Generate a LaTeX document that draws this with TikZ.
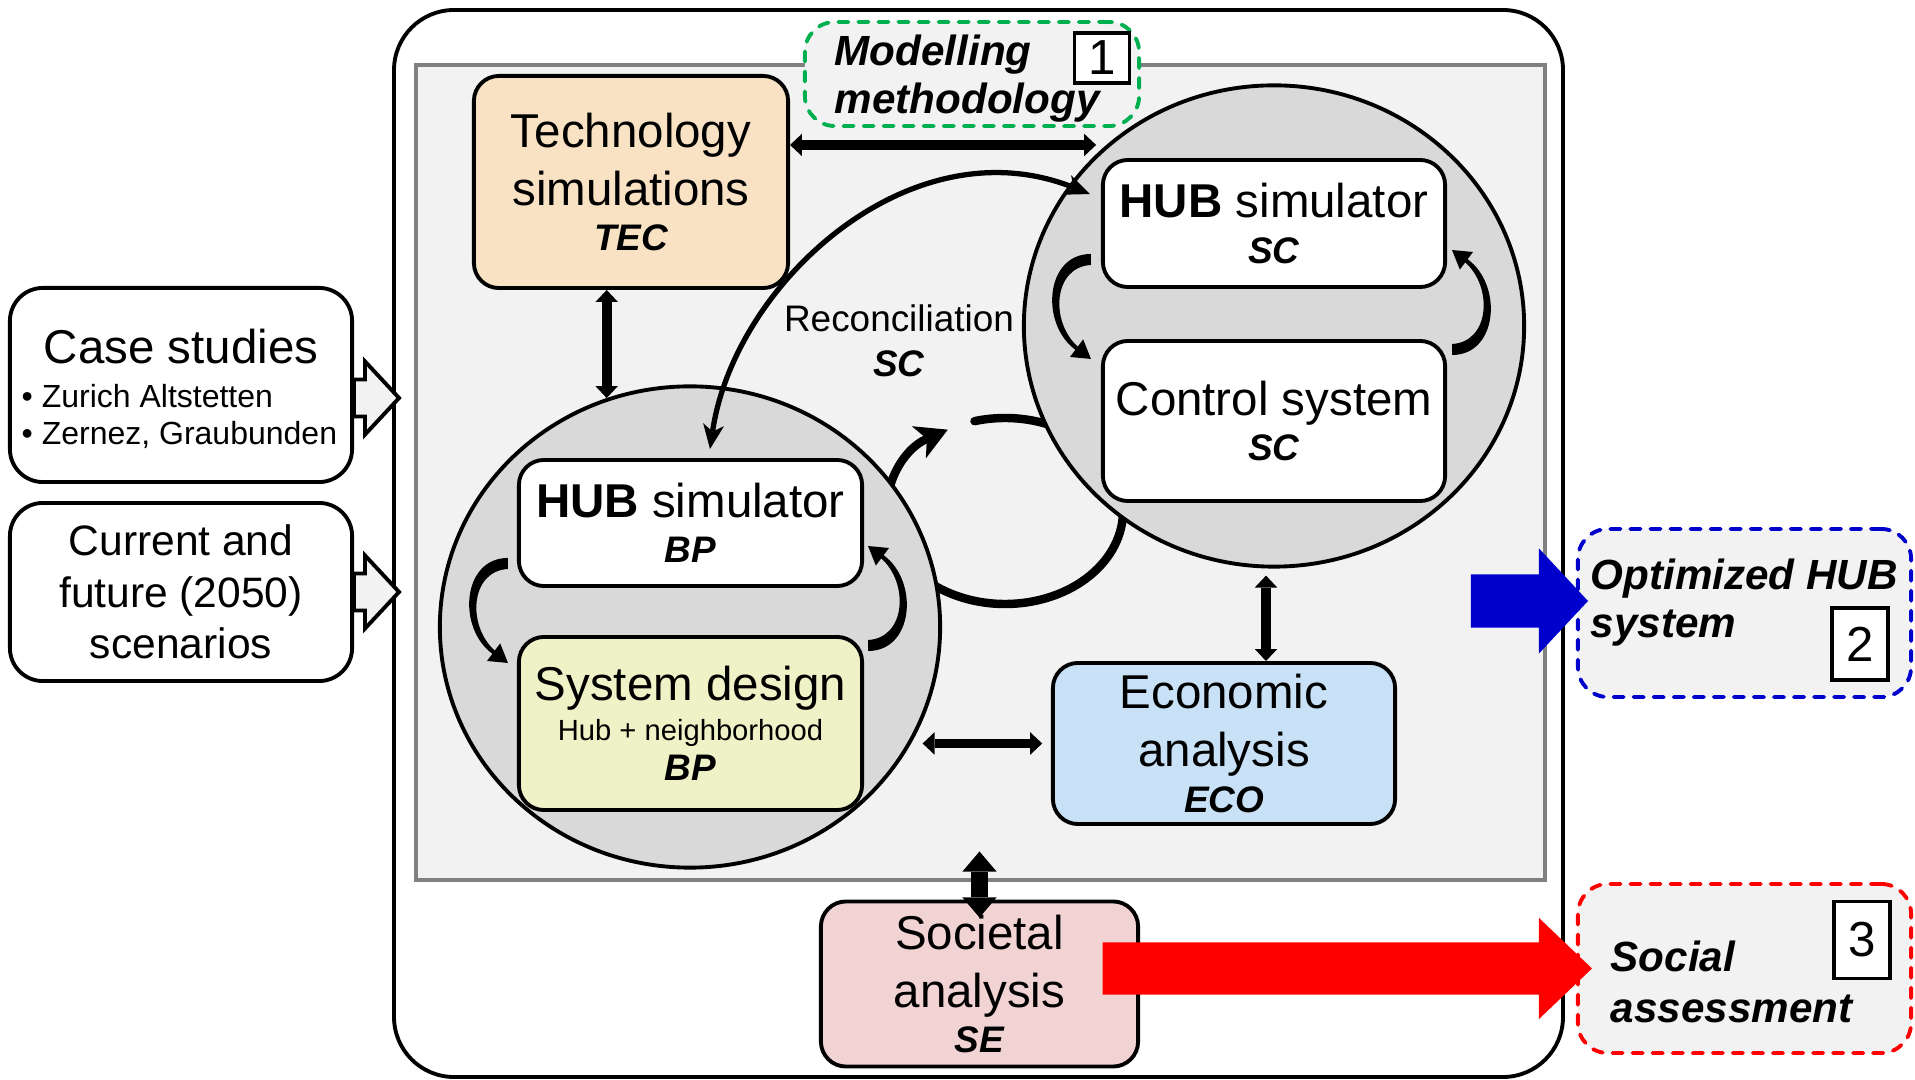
\documentclass[tikz,border=0pt]{standalone}
\usepackage{fontspec}
\setmainfont{Liberation Sans}
\usetikzlibrary{shapes.geometric,arrows.meta,positioning,calc}

\definecolor{techfill}{HTML}{F9E2C4}
\definecolor{designfill}{HTML}{EEF2C6}
\definecolor{ecofill}{HTML}{C8E1F6}
\definecolor{socfill}{HTML}{F2D3D3}
\definecolor{coregray}{HTML}{F2F2F2}
\definecolor{coreline}{HTML}{808080}
\definecolor{zonegray}{HTML}{D9D9D9}
\definecolor{mmgreen}{HTML}{00B050}
\definecolor{optblue}{HTML}{0000CC}
\definecolor{sared}{HTML}{FF0000}

\newcommand{\bigf}{\fontsize{13.5pt}{16.5pt}\selectfont}
\newcommand{\tagf}{\fontsize{10.5pt}{12pt}\selectfont\bfseries\itshape}
\newcommand{\resf}{\fontsize{12pt}{13.7pt}\selectfont\bfseries\itshape}

% horizontal block arrow: style, tip, length, shaft half width, head half width, head length
\newcommand{\blockarrow}[6]{%
  \path[#1] let \p1=(#2) in
    (\x1-#3,\y1+#4) -- (\x1-#6,\y1+#4) -- (\x1-#6,\y1+#5) -- (\x1,\y1)
    -- (\x1-#6,\y1-#5) -- (\x1-#6,\y1-#4) -- (\x1-#3,\y1-#4) -- cycle;}

\tikzset{
  box/.style={rectangle, rounded corners=0.25cm, draw, line width=1.1pt,
    align=center, font=\bigf, inner sep=0pt},
  simbox/.style={box, fill=white, minimum width=3.42cm},
  zone/.style={ellipse, draw, line width=1.1pt, fill=zonegray,
    minimum width=5.0cm, minimum height=4.81cm},
  result/.style={rectangle, rounded corners=0.3cm, line width=1.1pt,
    dash pattern=on 2.9pt off 2.8pt, line cap=round, fill=coregray},
  numbox/.style={rectangle, draw, line width=1.1pt, fill=white,
    font=\fontsize{14pt}{16pt}\selectfont, inner sep=0pt},
  duplex/.style={line width=2.8pt,
    {Triangle[length=3.4pt,width=6.4pt,line width=0pt]}-{Triangle[length=3.4pt,width=6.4pt,line width=0pt]}},
  fat duplex/.style={line width=5pt,
    {Triangle[length=5.7pt,width=9.7pt,line width=0pt]}-{Triangle[length=5.7pt,width=9.7pt,line width=0pt]}},
  bend arrow/.style={line width=1.5pt,
    {Stealth[length=7pt,width=6pt,inset=2pt,line width=0pt]}-{Stealth[length=7pt,width=6pt,inset=2pt,line width=0pt]}},
  loop arrow/.style={line width=2.4pt},
  pics/crescent/.style={code={
    \fill (0,0) .. controls (-46,0) and (-51,-70) .. (-15.6,-95.8)
      -- (-21,-103) -- (0,-105) -- (-7.8,-85.4) -- (-13.2,-92.6)
      .. controls (-41,-68) and (-38,-13) .. (0,-11) -- cycle;
  }}
}

\begin{document}
\begin{tikzpicture}[x=0.01cm, y=0.01cm]
  \useasboundingbox (0,0) rectangle (1915,-1080);

  % Frames
  \draw[line width=1.1pt, rounded corners=0.6cm, fill=white] (394,-10) rectangle (1563,-1077);
  \draw[line width=1.3pt, draw=coreline, fill=coregray] (416,-65) rectangle (1545,-880);
  \node[result, draw=mmgreen, minimum width=3.34cm, minimum height=1.04cm] (mm) at (972,-74) {};
  \node[anchor=west, align=left, inner sep=0pt, font=\resf] (mmtext) at (834,-79) {Modelling\\methodology};
  \node[numbox, minimum width=0.55cm, minimum height=0.5cm] (n1) at (1102,-58) {1};

  % Loop between the zones, its ends go under them
  \coordinate (loopc) at (1005,-511);
  \draw[loop arrow, -{Stealth[length=9pt,width=10pt,inset=2.5pt,line width=0pt]}]
    ([shift={(15:118 and 93)}]loopc) arc[start angle=15, end angle=-241, x radius=118, y radius=93];
  \draw[loop arrow, line cap=round]
    ([shift={(105:118 and 93)}]loopc) arc[start angle=105, end angle=40, x radius=118, y radius=93];

  % Zones
  \node[zone] (rc) at (1274,-326) {};
  \node[zone] (lc) at (690,-627) {};

  % Boxes
  \node[box, fill=techfill, minimum width=3.14cm, minimum height=2.12cm] (tech) at (631,-182)
    {Technology\\simulations\\[-3.7pt]{\tagf TEC}};
  \node[simbox, minimum height=1.27cm] (hubsc) at (1274,-223.5) {{\bfseries HUB} simulator\\[-3.6pt]{\tagf SC}};
  \node[simbox, minimum height=1.60cm] (ctrl) at (1274,-421) {Control system\\[-3.6pt]{\tagf SC}};
  \node[simbox, minimum width=3.43cm, minimum height=1.26cm] (hubbp) at (690.5,-523) {{\bfseries HUB} simulator\\[-3.6pt]{\tagf BP}};
  \node[box, fill=designfill, minimum width=3.43cm, minimum height=1.73cm] (sysd) at (690.5,-723.5)
    {System design\\[-5.1pt]{\fontsize{8.3pt}{10pt}\selectfont Hub + neighborhood}\\[-5.1pt]{\tagf BP}};
  \node[box, fill=ecofill, minimum width=3.42cm, minimum height=1.61cm] (eco) at (1224,-743.5)
    {Economic\\analysis\\[-3.6pt]{\tagf ECO}};

  % Feedback inside the zones
  \pic at ($(hubsc.south west)+(-10,35)$) {crescent};
  \pic[rotate=180] at ($(ctrl.north east)+(5,-16)$) {crescent};
  \pic at ($(hubbp.south west)+(-9,30)$) {crescent};
  \pic[rotate=180] at ($(sysd.north east)+(4,-16)$) {crescent};

  % Reconciliation
  \draw[bend arrow] ([xshift=0.195cm,yshift=0.09cm]hubbp.north)
    .. controls +(24,165) and +(-180,72) .. ([xshift=-0.11cm,yshift=-0.36cm]hubsc.north west);
  \node[align=center, inner sep=0pt, font=\fontsize{10.5pt}{12.8pt}\selectfont] (recon) at (899,-341)
    {Reconciliation\\{\tagf SC}};

  % Links
  \draw[duplex] ([yshift=0.37cm]tech.east) -- ([yshift=0.37cm]tech.east -| rc.136);
  \draw[duplex] (tech.south -| lc.110) -- (lc.110);
  \draw[duplex, shorten <=3.4pt, shorten >=2.5pt] (lc.-28 |- eco.west) -- (eco.west);
  \draw[duplex, shorten <=2pt] ([xshift=-0.08cm]rc.south) -- ([xshift=-0.08cm]rc.south |- eco.north);

  % Societal analysis
  \node[box, fill=socfill, minimum width=3.17cm, minimum height=1.65cm] (soc) at (979.5,-984)
    {Societal\\analysis\\[-3.6pt]{\tagf SE}};
  \draw[fat duplex] ([yshift=-0.18cm]soc.north) -- ([yshift=0.48cm]soc.north);

  % Results
  \node[result, draw=optblue, minimum width=3.33cm, minimum height=1.68cm] (opt) at (1744.5,-613) {};
  \node[anchor=west, align=left, inner sep=0pt, font=\resf] (opttext) at (1590,-603) {Optimized HUB\\system};
  \node[numbox, minimum width=0.56cm, minimum height=0.72cm] (n2) at (1860,-644) {2};
  \node[result, draw=sared, minimum width=3.33cm, minimum height=1.69cm] (sa) at (1744.5,-968.5) {};
  \node[anchor=west, align=left, inner sep=0pt, font=\fontsize{12pt}{14.5pt}\selectfont\bfseries\itshape] (satext) at (1610,-982) {Social\\assessment};
  \node[numbox, minimum width=0.56cm, minimum height=0.77cm] (n3) at (1862,-940) {3};
  \blockarrow{fill=optblue}{[xshift=0.12cm,yshift=0.12cm]opt.west}{1.17cm}{0.265cm}{0.525cm}{0.49cm}
  \blockarrow{fill=sared}{[xshift=0.16cm]sa.west}{4.89cm}{0.26cm}{0.505cm}{0.53cm}

  % Inputs
  \node[box, fill=white, minimum width=3.42cm, minimum height=1.94cm, rounded corners=0.33cm] (cases) at (181,-385) {};
  \node[anchor=base, font=\bigf] (casetitle) at (181,-364) {Case studies};
  \node[anchor=base west, align=left, inner sep=0pt, font=\fontsize{9.1pt}{10.8pt}\selectfont] (casesites) at (21,-445)
    {• Zurich Altstetten\\• Zernez, Graubunden};
  \node[box, fill=white, minimum width=3.42cm, minimum height=1.78cm, rounded corners=0.33cm,
    font=\fontsize{12.1pt}{14.6pt}\selectfont] (scen) at (181,-592) {Current and\\future (2050)\\scenarios};
  \blockarrow{draw, line width=1.1pt, fill=coregray}{[xshift=0.45cm,yshift=-0.13cm]cases.east}{0.45cm}{0.185cm}{0.365cm}{0.34cm}
  \blockarrow{draw, line width=1.1pt, fill=coregray}{[xshift=0.45cm]scen.east}{0.45cm}{0.185cm}{0.365cm}{0.34cm}
\end{tikzpicture}
\end{document}
